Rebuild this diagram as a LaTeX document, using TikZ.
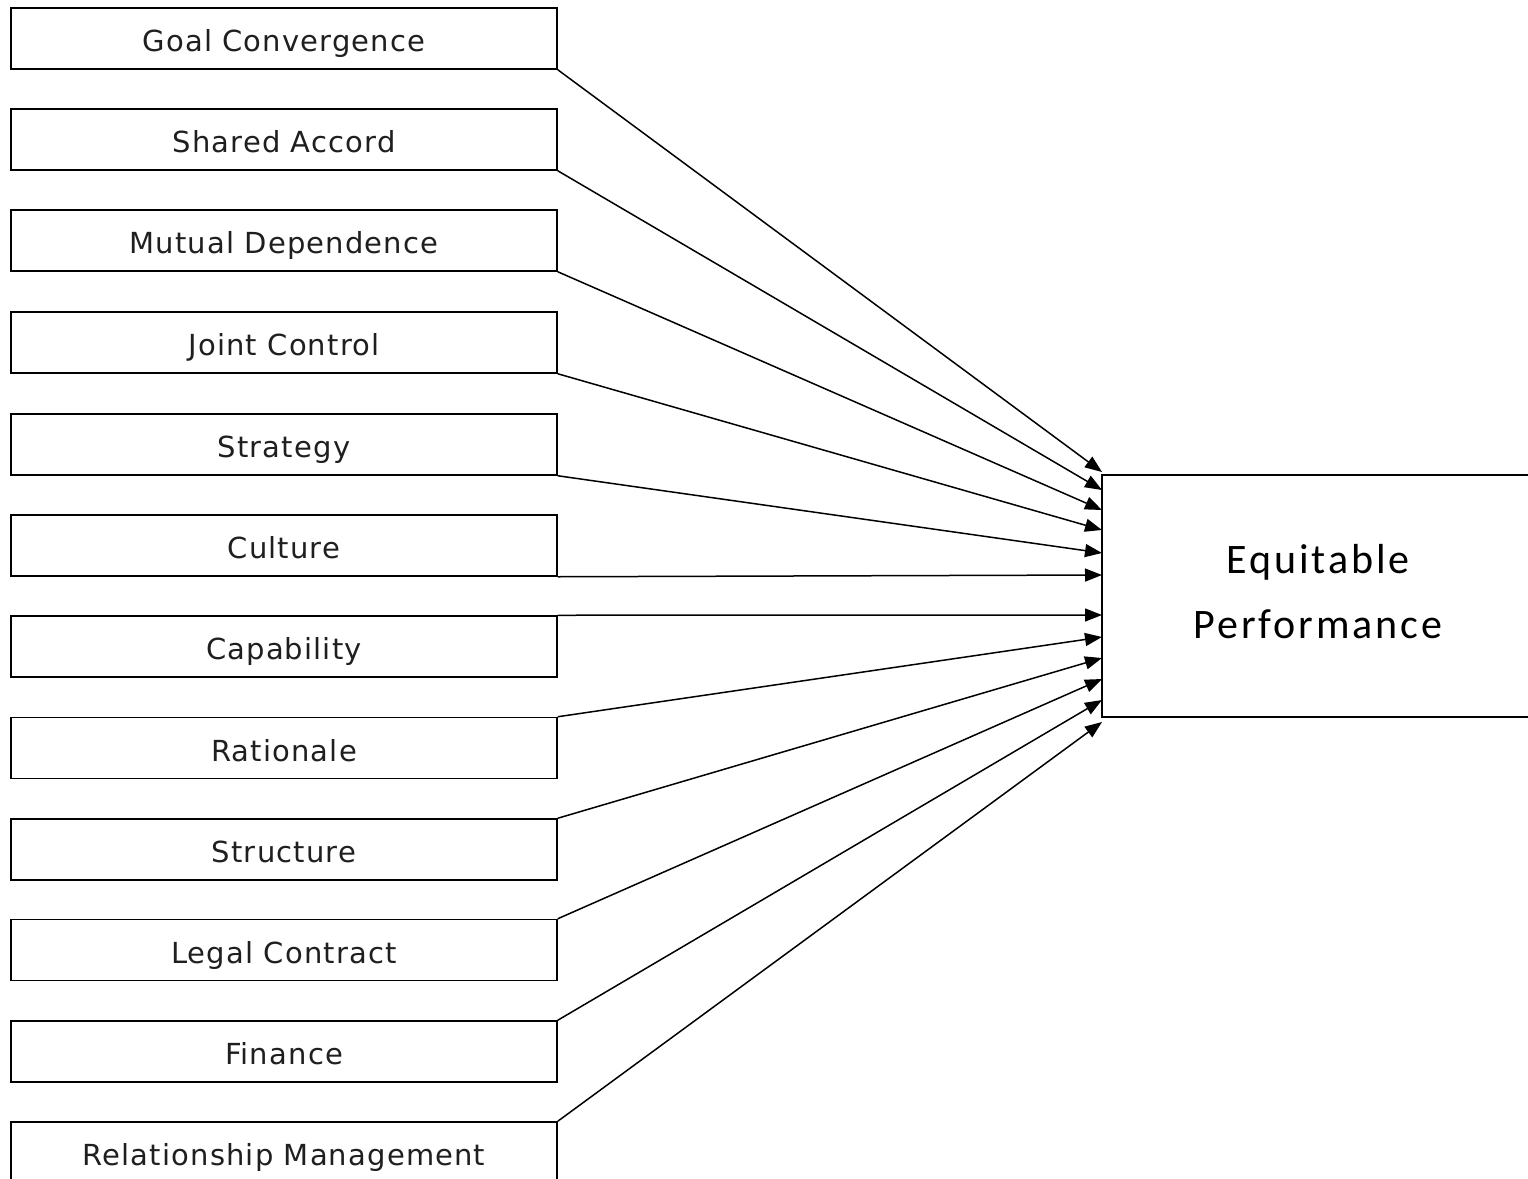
\documentclass[tikz,border=0pt]{standalone}
\usepackage{fontspec}
\setmainfont{DejaVu Sans}
\newfontfamily\epfont[LetterSpace=7]{Carlito}
\newfontfamily\boxfont[LetterSpace=4]{DejaVu Sans}
\usetikzlibrary{arrows.meta}
\begin{document}
\begin{tikzpicture}[x=0.5pt,y=-0.5pt,
  box/.style={draw, line width=0.75pt, minimum width=273pt, minimum height=30.5pt, inner sep=0pt},
  lbl/.style={font=\boxfont\fontsize{14.5pt}{17pt}\selectfont, text=black!88, inner sep=0pt, anchor=base},
  conn/.style={line width=0.75pt, -{Triangle[length=8.5pt,width=6.5pt]}}]
\useasboundingbox (0,0) rectangle (1528,1179);
\node[box] (b1) at (284,38.5) {};
\node[box] (b2) at (284,139.5) {};
\node[box] (b3) at (284,240.5) {};
\node[box] (b4) at (284,342.5) {};
\node[box] (b5) at (284,444.5) {};
\node[box] (b6) at (284,545.5) {};
\node[box] (b7) at (284,646.5) {};
\node[box] (b8) at (284,748) {};
\node[box] (b9) at (284,849.5) {};
\node[box] (b10) at (284,950) {};
\node[box] (b11) at (284,1051.5) {};
\node[box] (b12) at (284,1152.5) {};
\node[lbl] (t1) at ([yshift=-6.5pt]b1.center) {Goal Convergence};
\node[lbl] (t2) at ([yshift=-6.5pt]b2.center) {Shared Accord};
\node[lbl] (t3) at ([yshift=-6.5pt]b3.center) {Mutual Dependence};
\node[lbl] (t4) at ([yshift=-6.5pt]b4.center) {Joint Control};
\node[lbl] (t5) at ([yshift=-6.5pt]b5.center) {Strategy};
\node[lbl] (t6) at ([yshift=-6.5pt]b6.center) {Culture};
\node[lbl] (t7) at ([yshift=-6.5pt]b7.center) {Capability};
\node[lbl] (t8) at ([yshift=-6.5pt]b8.center) {Rationale};
\node[lbl] (t9) at ([yshift=-6.5pt]b9.center) {Structure};
\node[lbl] (t10) at ([yshift=-6.5pt]b10.center) {Legal Contract};
\node[lbl] (t11) at ([yshift=-6.5pt]b11.center) {Finance};
\node[lbl] (t12) at ([yshift=-6.5pt]b12.center) {Relationship Management};
\node[draw, line width=0.75pt, minimum width=215pt, minimum height=121pt, inner sep=0pt] (ep) at (1317,596) {};
\node[font=\epfont\fontsize{21pt}{32.5pt}\selectfont, align=center, text=black] (eptext) at (1318,592) {Equitable\\Performance};
\coordinate (e1) at (1102,472);
\coordinate (e2) at (1102,490);
\coordinate (e3) at (1102,510);
\coordinate (e4) at (1102,530);
\coordinate (e5) at (1102,553);
\coordinate (e6) at (1102,575);
\coordinate (e7) at (1102,615);
\coordinate (e8) at (1102,637);
\coordinate (e9) at (1102,658);
\coordinate (e10) at (1102,679);
\coordinate (e11) at (1102,700);
\coordinate (e12) at (1102,722);
\draw[conn] (b1.south east) -- (e1);
\draw[conn] (b2.south east) -- (e2);
\draw[conn] (b3.south east) -- (e3);
\draw[conn] (b4.south east) -- (e4);
\draw[conn] (b5.south east) -- (e5);
\draw[conn] (b6.south east) -- (e6);
\draw[conn] (b7.north east) -- (e7);
\draw[conn] (b8.north east) -- (e8);
\draw[conn] (b9.north east) -- (e9);
\draw[conn] (b10.north east) -- (e10);
\draw[conn] (b11.north east) -- (e11);
\draw[conn] (b12.north east) -- (e12);
\end{tikzpicture}
\end{document}
